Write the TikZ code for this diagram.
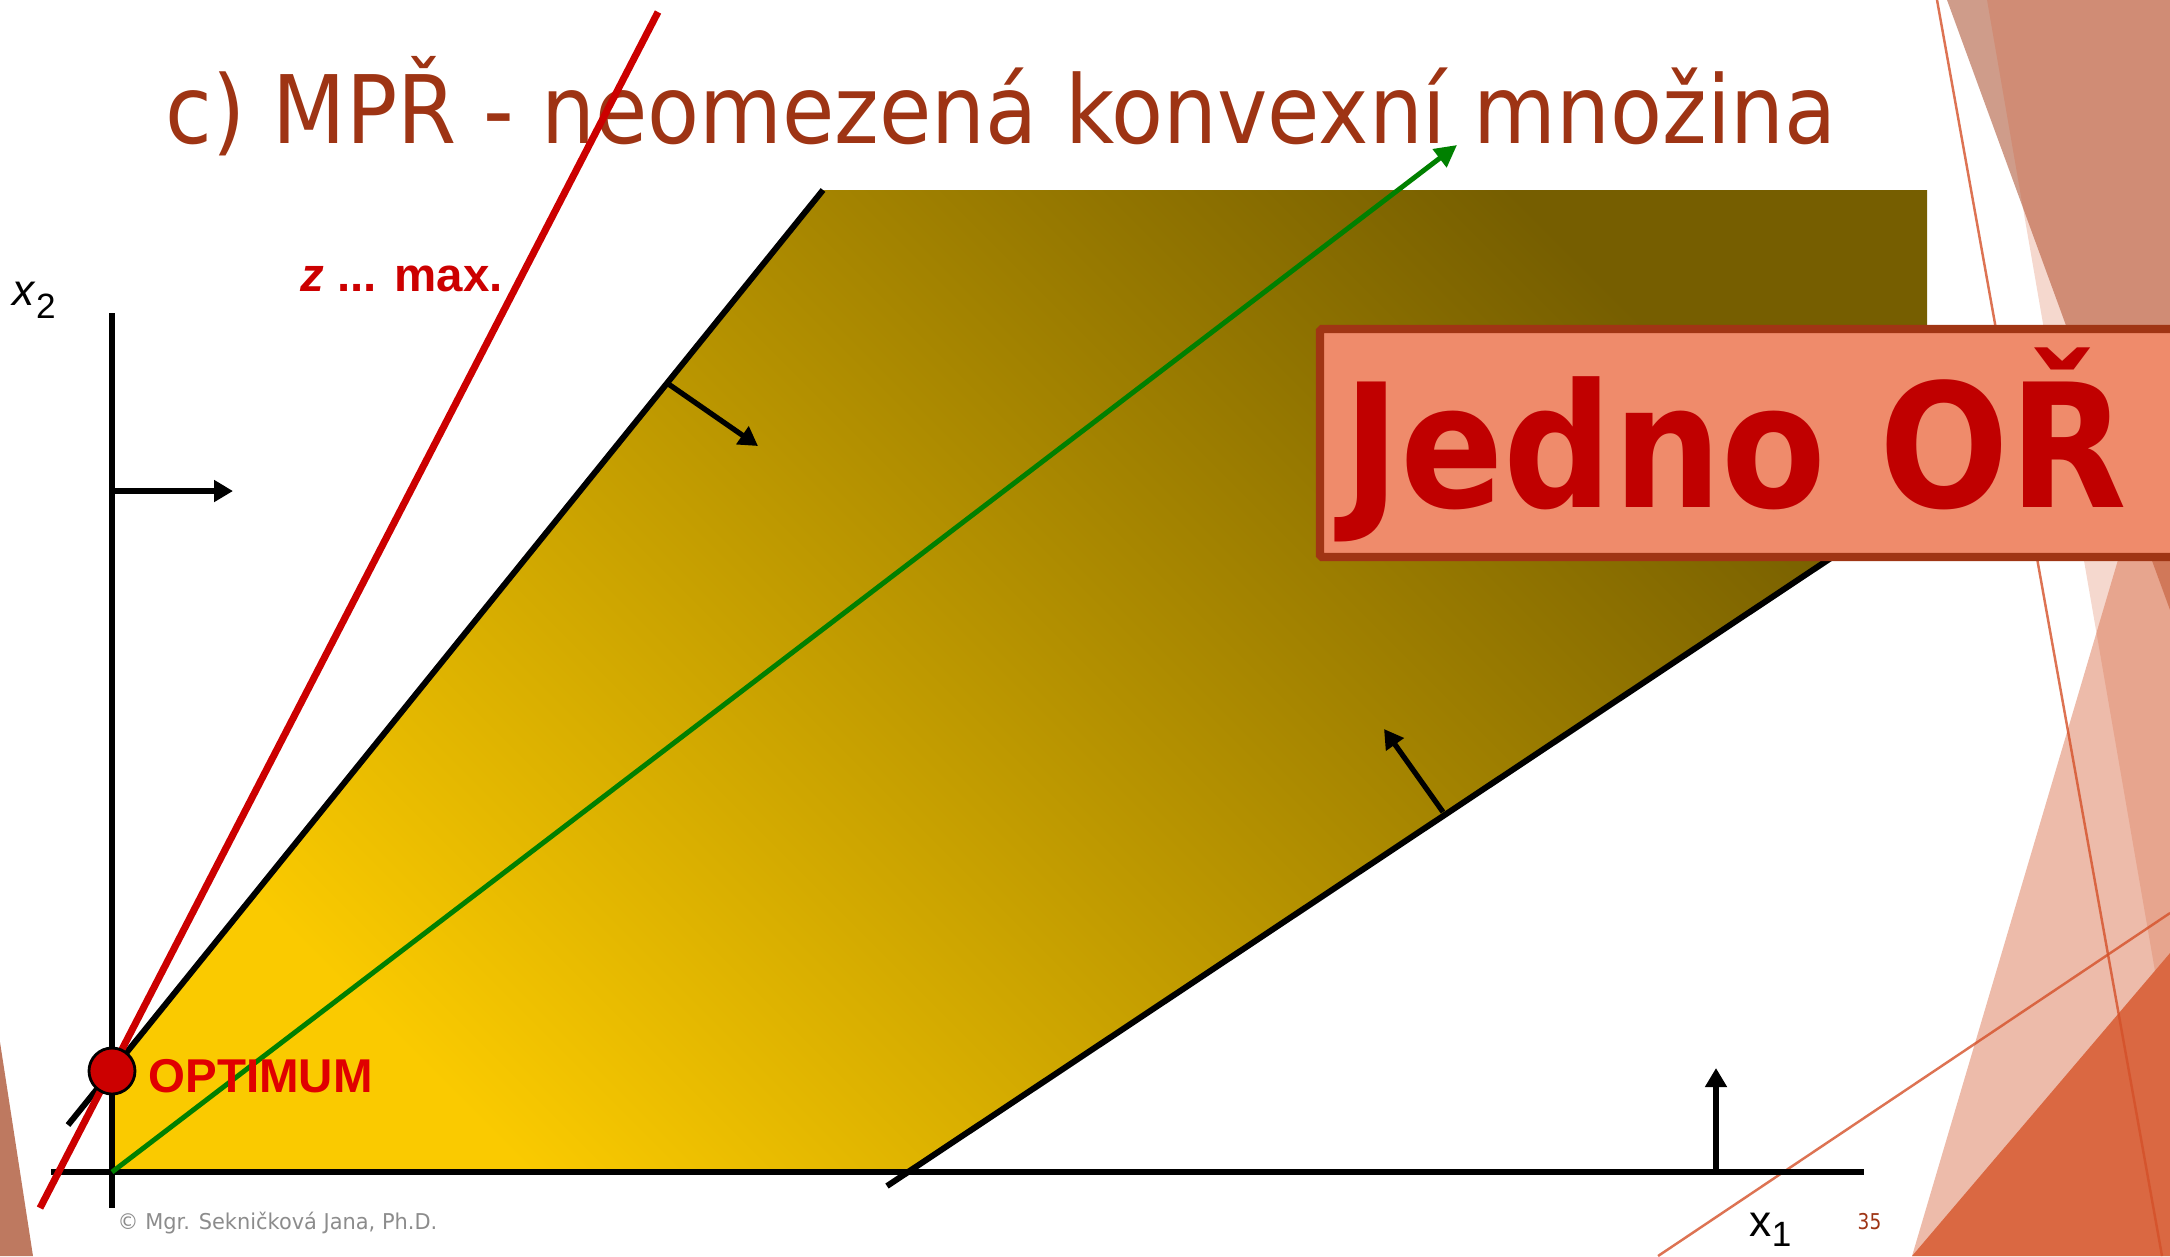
\documentclass[tikz,border=0pt]{standalone}
\usepackage{fontspec}
\setmainfont{Liberation Sans}
\newfontfamily\slidefont{DejaVu Sans}
\usetikzlibrary{arrows.meta}
\definecolor{titlebrown}{RGB}{158,52,20}
\definecolor{zred}{RGB}{204,0,0}
\definecolor{optred}{RGB}{224,0,0}
\definecolor{goldlight}{RGB}{250,202,0}
\definecolor{olivedark}{RGB}{118,94,0}
\definecolor{linegreen}{RGB}{0,128,0}
\definecolor{boxfill}{RGB}{239,139,107}
\definecolor{boxedge}{RGB}{160,53,20}
\definecolor{boxtext}{RGB}{192,0,0}
\definecolor{facetbrown}{RGB}{159,57,21}
\definecolor{facetorange}{RGB}{212,93,52}
\definecolor{facetdark}{RGB}{218,104,66}
\definecolor{facetline}{RGB}{212,80,40}
\definecolor{footgray}{RGB}{140,140,140}

\begin{document}
\begin{tikzpicture}[x=0.1mm,y=-0.1mm,
  axis/.style={line width=1.7pt},
  bound/.style={line width=1.7pt},
  feas/.style={line width=1.5pt,-{Triangle[length=1.9mm,width=2.1mm]}},
  thinline/.style={facetline,opacity=0.8,line width=0.7pt},
  lbl/.style={inner sep=0pt}]
\useasboundingbox (0,0) rectangle (2170,1256);
\clip (0,0) rectangle (2170,1256);

% facets of the slide
\fill[facetbrown,opacity=0.5] (1947,0) -- (2170,610) -- (2170,0) -- cycle;
\fill[facetorange,opacity=0.24] (1987,0) -- (2170,1058) -- (2170,0) -- cycle;
\fill[facetorange,opacity=0.42] (1912,1256) -- (2170,384) -- (2170,1256) -- cycle;
\fill[facetdark] (1912,1256) -- (2170,953) -- (2170,1256) -- cycle;
\fill[facetbrown,opacity=0.68] (0,1042) -- (33,1256) -- (0,1256) -- cycle;
\draw[thinline] (1937,0) -- (2162,1256);
\draw[thinline] (1658,1256) -- (2170,913);

\node[lbl,anchor=base west,text=titlebrown,font=\slidefont\fontsize{26.9}{30}\selectfont] (title) at (165,143)
  {\scalebox{0.9}[1]{c) MPŘ - neomezená konvexní množina}};

\coordinate (O) at (112,1172);
\coordinate (x2top) at (112,313);
\coordinate (x2bot) at (112,1208);
\coordinate (x1left) at (51,1172);
\coordinate (x1right) at (1864,1172);
\coordinate (upA) at (68,1125);
\coordinate (upB) at (823,190);
\coordinate (loA) at (887,1186);
\coordinate (loB) at (1927,494);
\coordinate (zA) at (40,1208);
\coordinate (zB) at (658,12);
\coordinate (gB) at (1457,145);

\shade[top color=olivedark,bottom color=goldlight,shading angle=-45]
  (O) -- (112,1070) -- (upB) -- (1927,190) -- (loB) -- (908,1172) -- cycle;

\draw[axis] (x2top) -- (x2bot);
\draw[axis] (x1left) -- (x1right);
\draw[linegreen,line width=1.4pt,-{Triangle[length=2.2mm,width=2.2mm]}] (O) -- (gB);
\draw[bound] (upA) -- (upB);
\draw[bound] (loA) -- (loB);
\draw[zred,line width=2pt] (zA) -- (zB);
\node[circle,fill=zred,draw=black,line width=0.8pt,minimum size=4.6mm,inner sep=0pt] (opt) at (112,1071) {};

\coordinate (a1s) at (112,491);   \coordinate (a1e) at (233,491);
\coordinate (a2s) at (667,383);   \coordinate (a2e) at (758,446);
\coordinate (a3s) at (1443,812);  \coordinate (a3e) at (1384,729);
\coordinate (a4s) at (1716,1172); \coordinate (a4e) at (1716,1068);
\draw[feas] (a1s) -- (a1e);
\draw[feas] (a2s) -- (a2e);
\draw[feas] (a3s) -- (a3e);
\draw[feas] (a4s) -- (a4e);

\node[lbl,anchor=base west,font=\fontsize{12.6}{14}\selectfont] (xtwo) at (12,305)
  {\textit{x}\raisebox{-1.3mm}{\fontsize{10}{12}\selectfont 2}};
\node[lbl,anchor=base west,font=\fontsize{12.6}{14}\selectfont] (xone) at (1749,1236)
  {x\raisebox{-1.0mm}{\fontsize{10}{12}\selectfont 1}};
\node[lbl,anchor=base west,text=zred,font=\bfseries\fontsize{13.5}{15}\selectfont] (zmax) at (300,291)
  {\textit{z} ... max.};
\node[lbl,anchor=base west,text=optred,font=\bfseries\fontsize{13.5}{15}\selectfont] (optlbl) at (148,1092)
  {OPTIMUM};
\node[lbl,anchor=base west,text=footgray,font=\slidefont\fontsize{6.2}{7}\selectfont] (foot) at (117,1229)
  {\scalebox{0.96}[1]{© Mgr. Sekničková Jana, Ph.D.}};
\node[lbl,anchor=base west,text=titlebrown,font=\slidefont\fontsize{6.2}{7}\selectfont] (page) at (1857,1229)
  {\scalebox{0.85}[1]{35}};

\draw[boxedge,fill=boxfill,line width=2.3pt,rounded corners=0.5pt] (1320,329) rectangle (2200,557);
\node[lbl,anchor=base west,text=boxtext,font=\slidefont\bfseries\fontsize{49}{52}\selectfont] (jedno) at (1343,507)
  {\scalebox{0.886}[1]{Jedno OŘ}};
\end{tikzpicture}
\end{document}
